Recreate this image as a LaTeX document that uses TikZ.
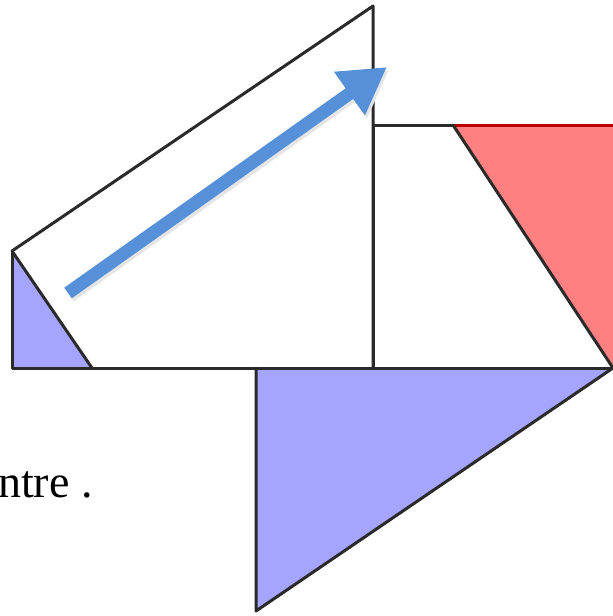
\documentclass[tikz,border=0pt]{standalone}
\usepackage{fontspec}
\setmainfont{Liberation Serif}
\usetikzlibrary{arrows.meta}
\definecolor{lblue}{HTML}{A5A5FF}
\definecolor{lred}{HTML}{FF8080}
\definecolor{dred}{HTML}{B80000}
\definecolor{arrowblue}{HTML}{5590D8}
\definecolor{edge}{HTML}{2A2A2A}
\tikzset{
  edgeline/.style={draw=edge, line width=3pt, line join=round, line cap=round},
  bluefill/.style={fill=lblue},
  redfill/.style={fill=lred},
  bigarrow/.style={draw=arrowblue, line width=13pt, -{Triangle[length=46pt,width=50pt]}},
  shadowarrow/.style={draw=black!10, line width=13pt, -{Triangle[length=46pt,width=50pt]}},
  txt/.style={font=\fontsize{46}{52}\selectfont, inner sep=0pt}
}
\begin{document}
\begin{tikzpicture}[x=1pt,y=-1pt]
\useasboundingbox (0,0) rectangle (613,616);
% coordinates
\coordinate (A) at (12,251);
\coordinate (B) at (373,6);
\coordinate (C) at (373,368);
\coordinate (D) at (12,368);
\coordinate (E) at (92,368);
\coordinate (R1) at (373,125);
\coordinate (R2) at (616,125);
\coordinate (R3) at (616,368);
\coordinate (P) at (453,125);
\coordinate (Q) at (613,368);
\coordinate (T1) at (256,368);
\coordinate (T2) at (256,611);
\coordinate (S) at (68,293);
\coordinate (H) at (387,67);
\coordinate (S2) at (70,296);
\coordinate (H2) at (389,70);
% fills
\fill[bluefill] (A) -- (D) -- (E) -- cycle;
\fill[redfill] (P) -- (R2) -- (R3) -- (Q) -- cycle;
\fill[bluefill] (T1) -- (Q) -- (T2) -- cycle;
% outlines
\draw[edgeline] (A) -- (B) -- (C);
\draw[edgeline] (A) -- (D) -- (R3);
\draw[edgeline] (A) -- (E);
\draw[edgeline] (C) -- (R1) -- (P);
\draw[draw=dred, line width=3pt] (P) -- (R2);
\draw[edgeline] (P) -- (Q);
\draw[edgeline] (T1) -- (T2) -- (Q);
% arrow
\draw[shadowarrow] (S2) -- (H2);
\draw[bigarrow] (S) -- (H);
% text
\node[txt, anchor=base west] (lbl) at (-2,497) {ntre .};
\end{tikzpicture}
\end{document}
